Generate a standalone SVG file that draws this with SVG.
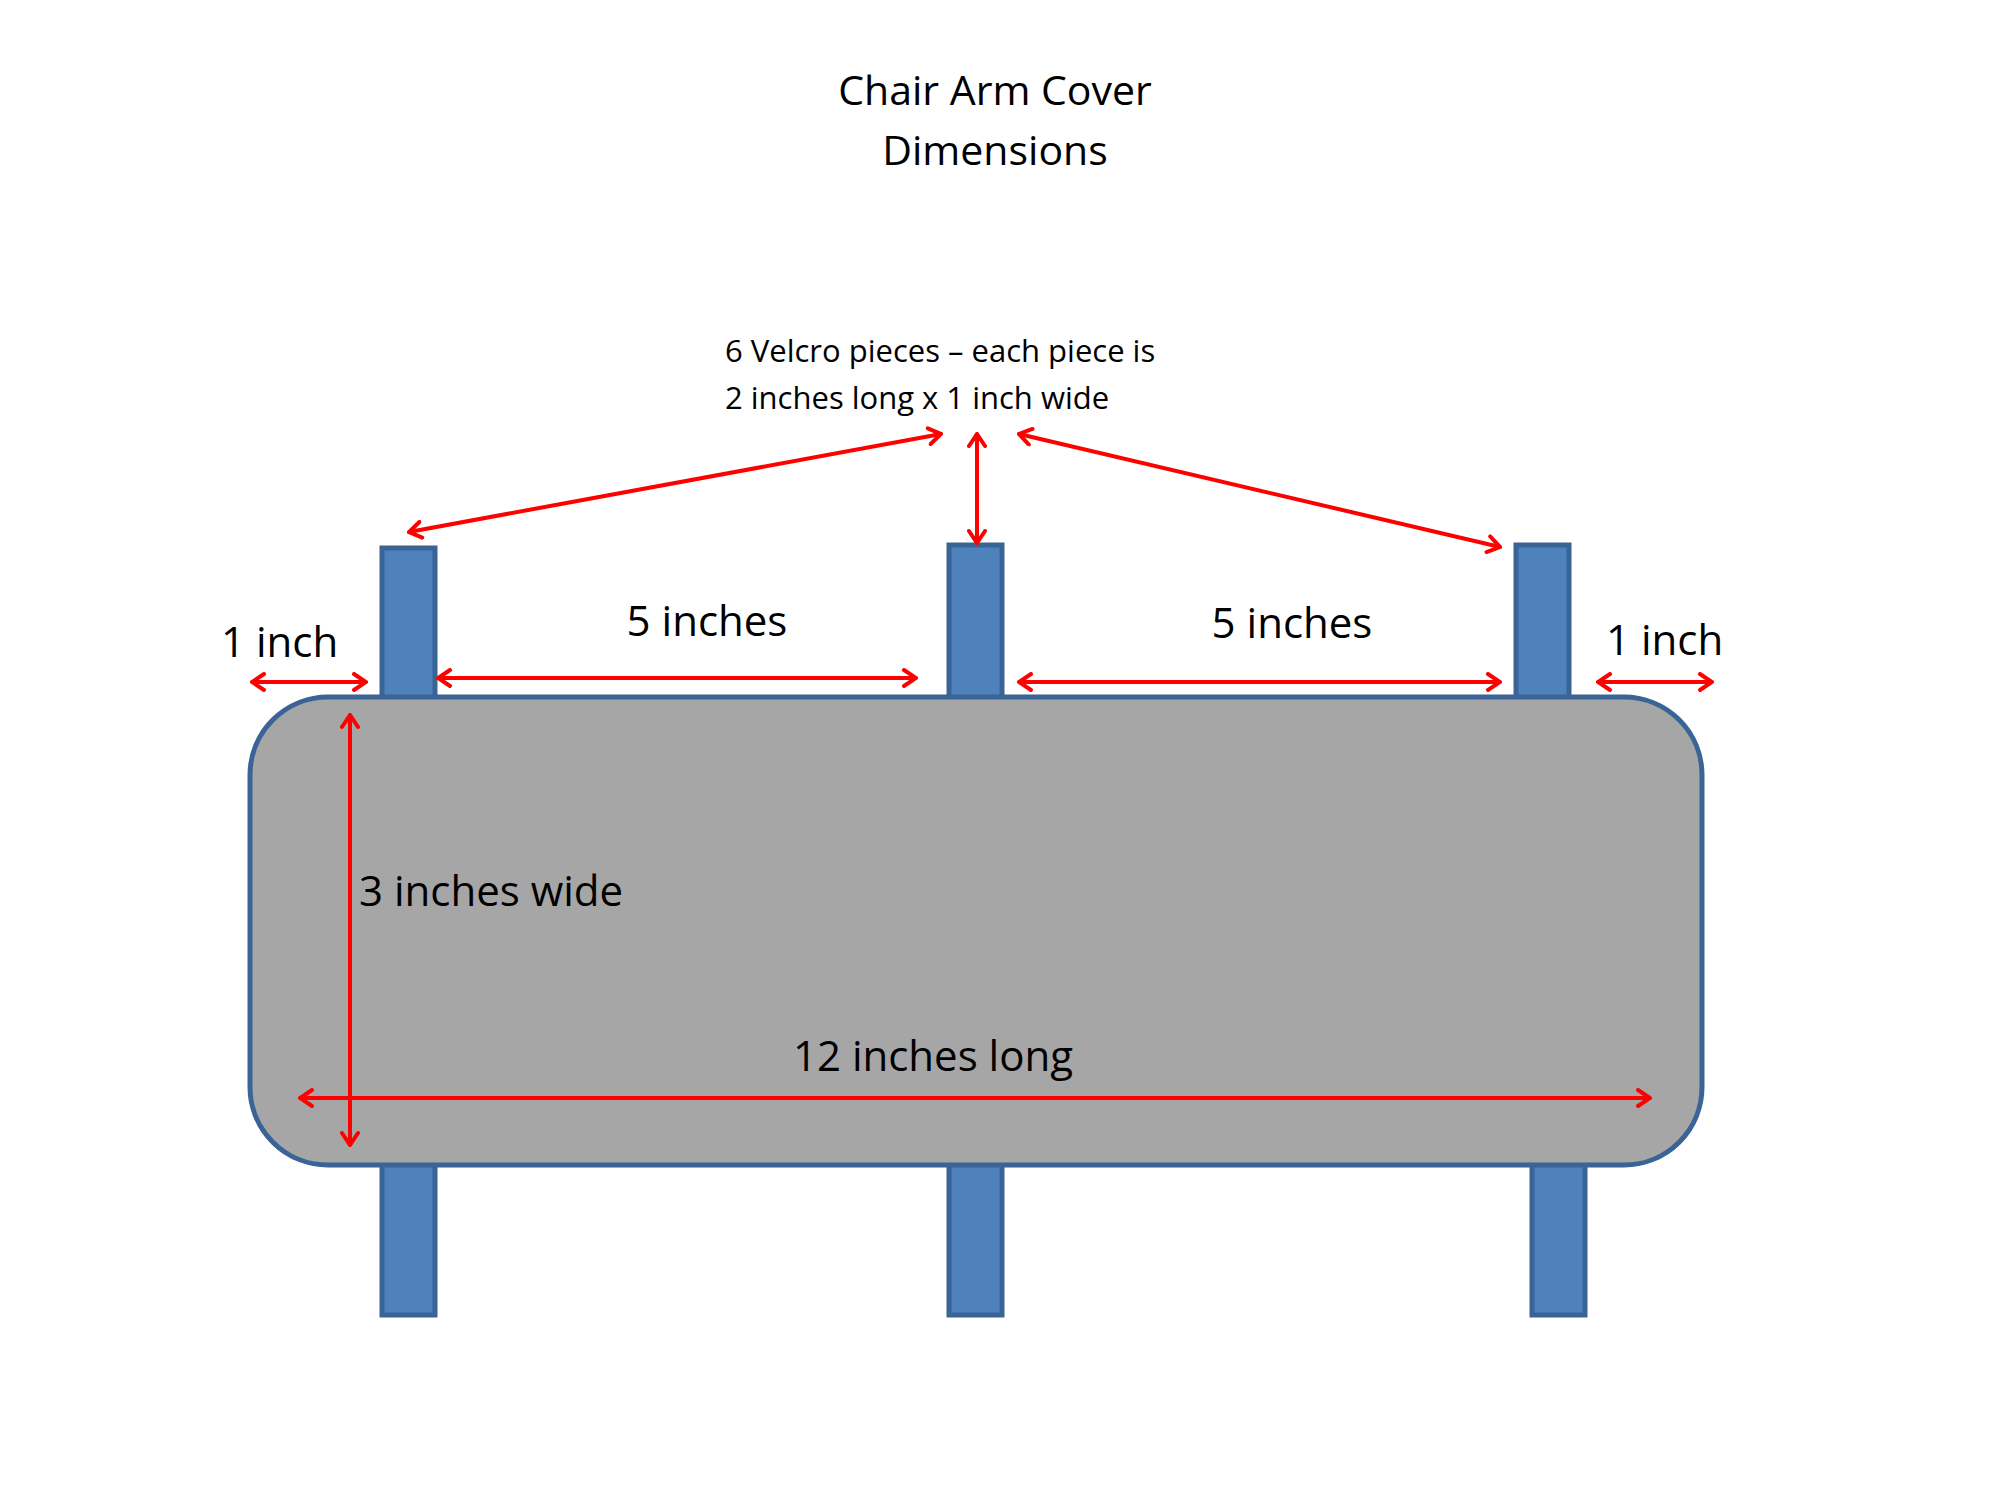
<svg xmlns="http://www.w3.org/2000/svg" width="2000" height="1500" viewBox="0 0 2000 1500">
<style>
.leg{fill:#4f81bd;stroke:#3a6396;stroke-width:5}
.arr{stroke:#ff0000;stroke-width:4;fill:none;marker-start:url(#h);marker-end:url(#h)}
text{font-family:"Open Sans","Liberation Sans",sans-serif;fill:#000}
.big{font-size:42px}
</style>
<defs>
<marker id="h" viewBox="0 0 20 20" refX="18" refY="10" markerWidth="20" markerHeight="20" markerUnits="userSpaceOnUse" orient="auto-start-reverse">
<path d="M6,2 L18,10 L6,18" fill="none" stroke="#ff0000" stroke-width="4" stroke-linecap="round"/>
</marker>
</defs>
<rect width="2000" height="1500" fill="#fff"/>
<g id="title">
<text x="995" y="105" font-size="41" text-anchor="middle">Chair Arm Cover</text>
<text x="995" y="165" font-size="41" text-anchor="middle">Dimensions</text>
</g>
<g id="legs-top">
<rect class="leg" x="382" y="548" width="53" height="152"/>
<rect class="leg" x="949" y="545" width="53" height="155"/>
<rect class="leg" x="1516" y="545" width="53" height="155"/>
</g>
<g id="legs-bottom">
<rect class="leg" x="382" y="1162" width="53" height="153"/>
<rect class="leg" x="949" y="1162" width="53" height="153"/>
<rect class="leg" x="1532" y="1162" width="53" height="153"/>
</g>
<g id="cover">
<rect x="250" y="697" width="1452" height="468" rx="78" fill="#a6a6a6" stroke="#3a6396" stroke-width="5"/>
</g>
<g id="velcro-note">
<text x="725" y="362" font-size="31">6 Velcro pieces – each piece is</text>
<text x="725" y="409" font-size="31">2 inches long x 1 inch wide</text>
</g>
<g id="connectors">
<line class="arr" x1="252" y1="682" x2="366" y2="682"/>
<line class="arr" x1="438" y1="678" x2="916" y2="678"/>
<line class="arr" x1="1019" y1="682" x2="1500" y2="682"/>
<line class="arr" x1="1598" y1="682" x2="1712" y2="682"/>
<line class="arr" x1="350" y1="715" x2="350" y2="1145"/>
<line class="arr" x1="300" y1="1098" x2="1650" y2="1098"/>
<line class="arr" x1="409" y1="532" x2="941" y2="434"/>
<line class="arr" x1="977" y1="434" x2="977" y2="543"/>
<line class="arr" x1="1019" y1="434" x2="1500" y2="547"/>
</g>
<g id="labels">
<text class="big" x="221" y="657">1 inch</text>
<text class="big" x="707" y="636" text-anchor="middle">5 inches</text>
<text class="big" x="1292" y="638" text-anchor="middle">5 inches</text>
<text class="big" x="1606" y="655">1 inch</text>
<text class="big" x="359" y="906">3 inches wide</text>
<text class="big" x="933" y="1071" text-anchor="middle">12 inches long</text>
</g>
</svg>
